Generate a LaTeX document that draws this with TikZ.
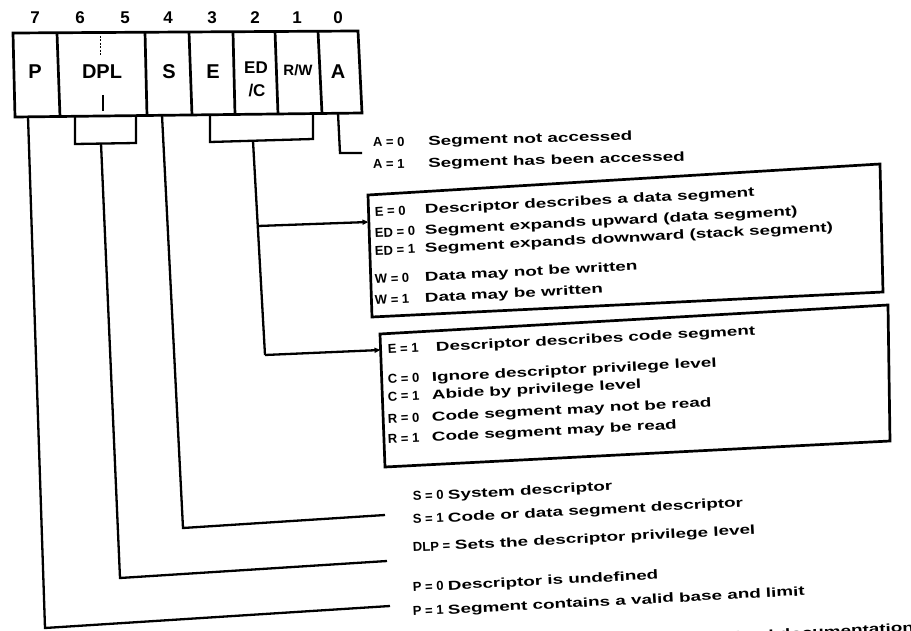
\documentclass[tikz,border=0pt]{standalone}
\usepackage{fontspec}
\setmainfont{Liberation Sans}
\usetikzlibrary{arrows.meta,calc}

% one legend row: key ("E = 0") and its widely set description on a sloped baseline
% #1 name, #2 base point, #3 key, #4 key column width, #5 description, #6 slope angle
\newcommand\legendrow[6]{%
  \coordinate (#1) at #2;
  \node[keytext, rotate=#6] (#1-key) at (#1) {#3};
  \node[desctext, rotate=#6, xscale=1.45] (#1-text) at ($(#1)+(-#6:#4)$) {#5};}

\begin{document}
\begin{tikzpicture}[x=1pt, y=-1pt,
  wire/.style={line width=2.3pt, line join=miter, line cap=butt},
  frame/.style={line width=2.7pt, line join=miter},
  feed/.style={wire, -{Triangle[length=6pt,width=5pt]}},
  field/.style={font=\bfseries\fontsize{20}{20}\selectfont, inner sep=0pt},
  bitno/.style={font=\bfseries\fontsize{17}{17}\selectfont, inner sep=0pt},
  keytext/.style={font=\bfseries\fontsize{13}{13}\selectfont, anchor=base west, inner sep=0pt},
  desctext/.style={font=\bfseries\fontsize{13}{13}\selectfont, anchor=base west, inner sep=0pt}
]
\clip (0,0) rectangle (911,631);
\fill[white] (0,0) rectangle (911,631);

% ---- access-rights byte ----
\coordinate (reg-tl) at (13,33);
\coordinate (reg-tr) at (358,31);
\coordinate (reg-br) at (362,113);
\coordinate (reg-bl) at (15,117);
\draw[frame] (reg-tl) -- (reg-tr) -- (reg-br) -- (reg-bl) -- cycle;
\draw[frame] (57,33) -- (60,116.8);
\draw[frame] (145,32) -- (147,115.8);
\draw[frame] (189,32) -- (192,115.2);
\draw[frame] (233,32) -- (235,114.7);
\draw[frame] (275,31) -- (278,114.2);
\draw[frame] (318,31) -- (322,113.6);
\draw[line width=1pt, dash pattern=on 2pt off 1.5pt] (100,36) -- (100,56);
\draw[line width=2pt] (103,95) -- (103,111);

\node[bitno] (b7) at (35,18) {7};
\node[bitno] (b6) at (80,18) {6};
\node[bitno] (b5) at (125,18) {5};
\node[bitno] (b4) at (168,18) {4};
\node[bitno] (b3) at (212,18) {3};
\node[bitno] (b2) at (255,18) {2};
\node[bitno] (b1) at (297,18) {1};
\node[bitno] (b0) at (338,18) {0};

\node[field] (fP) at (35,72) {P};
\node[field] (fDPL) at (102,72) {DPL};
\node[field] (fS) at (169,72) {S};
\node[field] (fE) at (213,72) {E};
\node[field, font=\bfseries\fontsize{17}{17}\selectfont] (fED) at (256,68) {ED};
\node[field, font=\bfseries\fontsize{17}{17}\selectfont] (fC) at (257,91) {/C};
\node[field, font=\bfseries\fontsize{15}{15}\selectfont] (fRW) at (298,70) {R/W};
\node[field] (fA) at (338,72) {A};

% feet of the fields on the lower edge of the byte
\coordinate (p-foot) at (28,116.9);
\coordinate (dpl-left) at (75,116.3);
\coordinate (dpl-right) at (136,115.6);
\coordinate (s-foot) at (162,115.3);
\coordinate (e-left) at (210,114.8);
\coordinate (e-right) at (313,113.6);
\coordinate (a-foot) at (338,113.3);

% brackets joining two fields
\coordinate (dpl-bl) at (75,144);
\coordinate (dpl-br) at (136,143);
\coordinate (dpl-mid) at (101,143.5);
\draw[wire] (dpl-left) -- (dpl-bl) -- (dpl-br) -- (dpl-right);
\coordinate (e-bl) at (210,142);
\coordinate (e-br) at (313,139);
\coordinate (e-mid) at (253,141);
\draw[wire] (e-left) -- (e-bl) -- (e-br) -- (e-right);

% ---- description boxes ----
\coordinate (d-tl) at (368,195);
\coordinate (d-tr) at (880,164);
\coordinate (d-br) at (883,292);
\coordinate (d-bl) at (372,317);
\draw[frame] (d-tl) -- (d-tr) -- (d-br) -- (d-bl) -- cycle;

\coordinate (c-tl) at (380,334);
\coordinate (c-tr) at (888,305);
\coordinate (c-br) at (890,441);
\coordinate (c-bl) at (385,467);
\draw[frame] (c-tl) -- (c-tr) -- (c-br) -- (c-bl) -- cycle;

% ---- connectors ----
\coordinate (a-turn) at (340,153);
\coordinate (a-end) at (362,153);
\draw[wire] (a-foot) -- (a-turn) -- (a-end);

\coordinate (e-tap) at (258,226);
\coordinate (e-turn) at (265,355);
\coordinate (d-in) at (368.5,222);
\coordinate (c-in) at (380.5,350);
\draw[wire] (e-mid) -- (e-turn);
\draw[feed] (e-tap) -- (d-in);
\draw[feed] (e-turn) -- (c-in);

\coordinate (s-turn) at (183,528);
\coordinate (s-end) at (385,515);
\draw[wire] (s-foot) -- (s-turn) -- (s-end);

\coordinate (dpl-turn) at (120,578);
\coordinate (dpl-end) at (387,561);
\draw[wire] (dpl-mid) -- (dpl-turn) -- (dpl-end);

\coordinate (p-turn) at (45,628);
\coordinate (p-end) at (390,606);
\draw[wire] (p-foot) -- (p-turn) -- (p-end);

% ---- legend texts ----
\legendrow{ta0}{(373,147)}{A = 0}{55}{Segment not accessed}{1.5}
\legendrow{ta1}{(373,169)}{A = 1}{55}{Segment has been accessed}{1.5}

\legendrow{td1}{(375,216.5)}{E = 0}{50}{Descriptor describes a data segment}{3}
\legendrow{td2}{(375,237.5)}{ED = 0}{50}{Segment expands upward (data segment)}{3}
\legendrow{td3}{(375,255.5)}{ED = 1}{50}{Segment expands downward (stack segment)}{3}
\legendrow{td4}{(375,284)}{W = 0}{50}{Data may not be written}{3}
\legendrow{td5}{(375,305)}{W = 1}{50}{Data may be written}{3}

\legendrow{tc1}{(388,354)}{E = 1}{48}{Descriptor describes code segment}{3}
\legendrow{tc2}{(388,384)}{C = 0}{44}{Ignore descriptor privilege level}{3}
\legendrow{tc3}{(388,401.5)}{C = 1}{44}{Abide by privilege level}{3}
\legendrow{tc4}{(388,423.5)}{R = 0}{44}{Code segment may not be read}{3}
\legendrow{tc5}{(388,444)}{R = 1}{44}{Code segment may be read}{3}

\legendrow{ts0}{(413,501)}{S = 0}{35}{System descriptor}{3}
\legendrow{ts1}{(413,524)}{S = 1}{35}{Code or data segment descriptor}{3}
\legendrow{tdpl}{(413,552)}{DLP =}{42}{Sets the descriptor privilege level}{3}
\legendrow{tp0}{(413,592)}{P = 0}{35}{Descriptor is undefined}{3}
\legendrow{tp1}{(413,616)}{P = 1}{35}{Segment contains a valid base and limit}{3}
\node[desctext, rotate=3, xscale=1.45] (tnote) at (735,641) {Intel documentation};
\end{tikzpicture}
\end{document}
